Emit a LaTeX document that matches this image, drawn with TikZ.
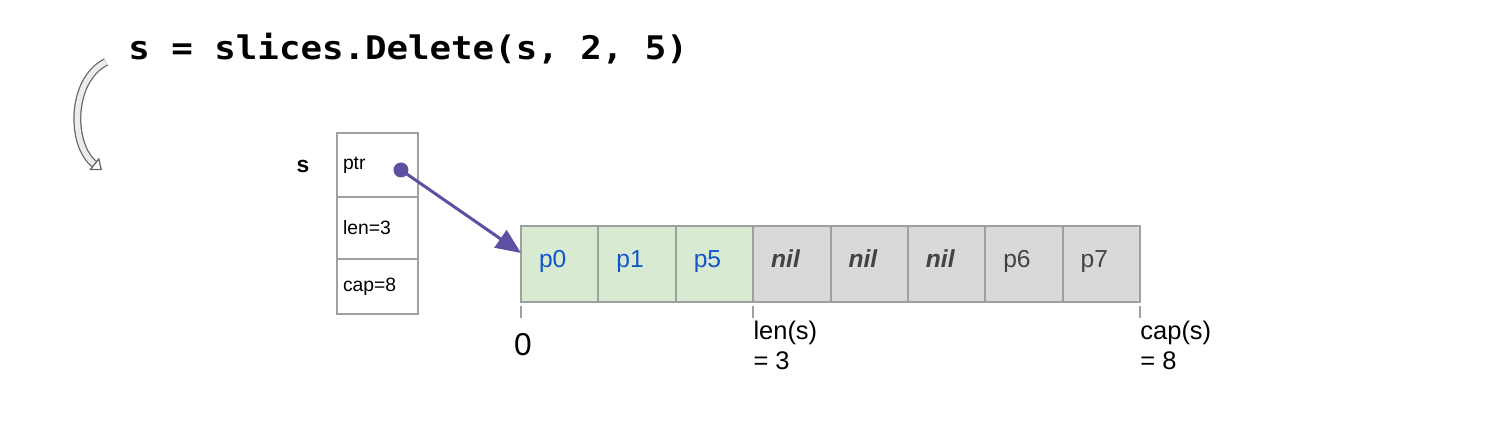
\documentclass[tikz,border=0pt]{standalone}
\usepackage{fontspec}
\setmainfont{Liberation Sans}
\newfontfamily\codefont[FakeStretch=1.10]{DejaVu Sans Mono}
\usepackage{tikz}
\usetikzlibrary{arrows.meta}
\usetikzlibrary{positioning}
\definecolor{cell_border}{RGB}{160,160,160}
\definecolor{live_fill}{RGB}{217,234,211}
\definecolor{dead_fill}{RGB}{217,217,217}
\definecolor{live_text}{RGB}{17,85,204}
\definecolor{dead_text}{RGB}{67,67,67}
\definecolor{ptr_purple}{RGB}{94,79,162}
\tikzstyle{cell} = [
    draw=cell_border,
    line width=0.04cm,
    outer sep=0pt,
    minimum height=1.52cm,
    text width=0.828cm,
    text height=0.75em,
    text depth=0.3em,
    inner xsep=0.36cm, % text sits a bit left of centre
    inner ysep=0pt,
    align=left,
    font=\fontsize{14}{16}\selectfont
]
\tikzstyle{live_cell} = [cell, fill=live_fill, text=live_text]
\tikzstyle{dead_cell} = [cell, fill=dead_fill, text=dead_text]
\tikzstyle{nil_cell} = [dead_cell, font=\fontsize{14}{16}\selectfont\bfseries\itshape]
\tikzstyle{field} = [
    draw=cell_border,
    line width=0.04cm,
    outer sep=0pt,
    text width=1.38cm,
    inner xsep=0.12cm,
    align=left,
    font=\fontsize{11}{13}\selectfont
]
\tikzstyle{tick} = [draw=cell_border, line width=0.04cm]
\tikzstyle{mark_label} = [
    anchor=north west,
    inner sep=0pt,
    align=left,
    font=\fontsize{14.5}{17}\selectfont
]
\begin{document}
\begin{tikzpicture}[x=0.02cm, y=-0.02cm]
\useasboundingbox (0,0) rectangle (1510,448);

% the call
\node [anchor=base west, inner sep=0pt] (call) at (128,60)
    {\codefont\bfseries\fontsize{18.5}{18.5}\selectfont s = slices.Delete(s, 2, 5)};
\coordinate (arc_start) at (106,62);
\coordinate (arc_end) at (102,170);
\draw [draw=gray!80!black, line width=0.025cm, double=white!85!gray,
    double distance=0.11cm, -{Triangle[open, length=0.2cm, width=0.32cm]}]
    (arc_start) .. controls (70,80) and (70,145) .. (arc_end);

% slice header
\node [font=\bfseries\fontsize{13}{13}\selectfont] (s_name) at (303,166) {s};
\node [field, anchor=north west, minimum height=1.28cm] (ptr) at (337,133) {ptr};
\node [field, below=0pt of ptr, minimum height=1.24cm] (len) {len=3};
\node [field, below=0pt of len, minimum height=1.10cm] (cap) {cap=8};

% backing array
\node [live_cell, anchor=north west] (c0) at (521,226) {p0};
\node [live_cell, right=0pt of c0] (c1) {p1};
\node [live_cell, right=0pt of c1] (c2) {p5};
\node [nil_cell, right=0pt of c2] (c3) {nil};
\node [nil_cell, right=0pt of c3] (c4) {nil};
\node [nil_cell, right=0pt of c4] (c5) {nil};
\node [dead_cell, right=0pt of c5] (c6) {p6};
\node [dead_cell, right=0pt of c6] (c7) {p7};

% pointer
\coordinate (ptr_dot) at ([xshift=-0.34cm, yshift=-0.1cm]ptr.east);
\draw [ptr_purple, line width=0.06cm, -{Triangle[length=0.5cm, width=0.42cm]}]
    (ptr_dot) -- ([yshift=0.22cm]c0.west);
\fill [ptr_purple] (ptr_dot) circle (0.15cm);

% marks under the array
\draw [tick] ([yshift=-0.08cm]c0.south west) -- ++(0,-0.24cm);
\draw [tick] ([yshift=-0.08cm]c3.south west) -- ++(0,-0.24cm);
\draw [tick] ([yshift=-0.08cm]c7.south east) -- ++(0,-0.24cm);
\node [anchor=north, inner sep=0pt, font=\fontsize{18}{18}\selectfont] (zero)
    at ([xshift=0.04cm, yshift=-0.62cm]c0.south west) {0};
\node [mark_label] (len_mark) at ([yshift=-0.38cm]c3.south west) {len(s)\\= 3};
\node [mark_label] (cap_mark) at ([yshift=-0.38cm]c7.south east) {cap(s)\\= 8};
\end{tikzpicture}
\end{document}
